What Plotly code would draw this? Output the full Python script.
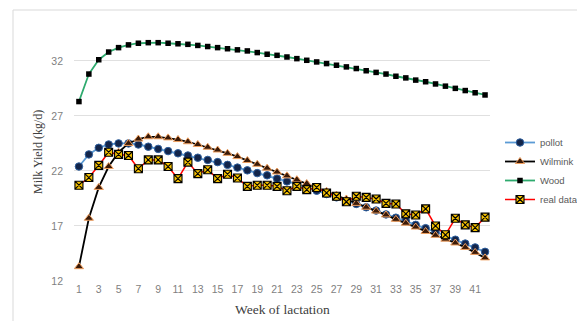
import plotly.graph_objects as go

weeks = list(range(1, 43))
x_tick_labels = [str(w) for w in range(1, 42, 2)]
y_tick_values = [12, 17, 22, 27, 32]

pollot = [22.4, 23.5, 24.1, 24.4, 24.5, 24.5, 24.4, 24.2, 24.0, 23.8, 23.6, 23.4,
          23.2, 23.0, 22.8, 22.55, 22.3, 22.05, 21.8, 21.6, 21.3, 21.05, 20.8, 20.5,
          20.2, 19.9, 19.6, 19.3, 19.0, 18.7, 18.4, 18.05, 17.75, 17.45, 17.1, 16.8,
          16.45, 16.1, 15.75, 15.4, 15.05, 14.65]
wilmink = [13.3, 17.7, 20.5, 22.4, 23.7, 24.5, 24.9, 25.1, 25.1, 25.0, 24.85, 24.65,
           24.4, 24.15, 23.9, 23.6, 23.3, 22.95, 22.6, 22.25, 21.9, 21.55, 21.2, 20.85,
           20.5, 20.15, 19.8, 19.45, 19.05, 18.7, 18.35, 18.0, 17.6, 17.25, 16.9, 16.5,
           16.15, 15.8, 15.45, 15.05, 14.6, 14.1]
wood = [28.3, 30.8, 32.1, 32.8, 33.2, 33.45, 33.6, 33.65, 33.65, 33.6, 33.55, 33.5,
        33.4, 33.3, 33.2, 33.1, 33.0, 32.9, 32.75, 32.6, 32.5, 32.35, 32.2, 32.05,
        31.9, 31.75, 31.6, 31.45, 31.3, 31.1, 30.95, 30.8, 30.6, 30.45, 30.25, 30.1,
        29.9, 29.7, 29.5, 29.3, 29.1, 28.9]
real_data = [20.7, 21.4, 22.5, 23.7, 23.5, 23.4, 22.2, 23.0, 23.0, 22.4, 21.3, 22.8,
             21.75, 22.1, 21.3, 21.7, 21.35, 20.6, 20.7, 20.7, 20.6, 20.2, 20.6, 20.3,
             20.5, 20.0, 19.7, 19.2, 19.7, 19.6, 19.45, 19.05, 19.0, 18.1, 18.0, 18.55,
             17.0, 16.2, 17.7, 17.1, 16.85, 17.8]

fig = go.Figure()
fig.add_trace(go.Scatter(
    x=weeks, y=pollot, name="pollot", mode="lines+markers",
    line=dict(color="#5b9bd5", width=1.8),
    marker=dict(symbol="circle", size=7.5, color="#13254a", line=dict(color="#2e5f9e", width=1))))
fig.add_trace(go.Scatter(
    x=weeks, y=wilmink, name="Wilmink", mode="lines+markers",
    line=dict(color="#000000", width=1.8),
    marker=dict(symbol="triangle-up", size=8, color="#3a1a08", line=dict(color="#f0a060", width=1))))
fig.add_trace(go.Scatter(
    x=weeks, y=wood, name="Wood", mode="lines+markers",
    line=dict(color="#2eaa6e", width=1.8),
    marker=dict(symbol="square", size=5.5, color="#000000", line=dict(width=0))))
fig.add_trace(go.Scatter(
    x=weeks, y=real_data, name="real data", mode="lines+markers",
    line=dict(color="#ff0000", width=1.5),
    marker=dict(symbol="square-x", size=8, color="#f5c000", line=dict(color="#000000", width=1.1))))

# page body has an 8px default margin; target pixel positions are in window coords
OFF = 8
W, H = 585 - OFF, 321 - OFF
L, T = 74 - OFF, 0
plot_right, plot_bottom = 490 - OFF, 281 - OFF
R, B = W - plot_right, H - plot_bottom
pw, ph = W - L - R, H - T - B

def px_x(p):
    return (p - OFF - L) / pw

def px_y(p):
    return (plot_bottom - (p - OFF)) / ph

fig.update_layout(
    width=W, height=H,
    margin=dict(l=L, r=R, t=T, b=B),
    paper_bgcolor="white", plot_bgcolor="white",
    font=dict(family="Liberation Sans, Arial, sans-serif", size=10, color="#7f7f7f"),
    showlegend=True,
    legend=dict(x=px_x(500), y=px_y(128), xanchor="left", yanchor="top",
                font=dict(size=9.5, color="#595959"), bgcolor="rgba(0,0,0,0)",
                itemwidth=30, tracegroupgap=0),
    xaxis=dict(range=[0.5, 42.5], tickmode="array", tickvals=list(range(1, 42, 2)),
               ticktext=x_tick_labels, showgrid=False, zeroline=False, showline=False,
               ticks="", tickfont=dict(size=10.5, color="#7f7f7f")),
    yaxis=dict(range=[12, 36.8], tickmode="array", tickvals=y_tick_values,
               showgrid=True, gridcolor="#e0e0e0", gridwidth=1, zeroline=False,
               showline=False, ticks="", ticklabelstandoff=10,
               tickfont=dict(size=10.5, color="#7f7f7f")),
    shapes=[dict(type="rect", xref="paper", yref="paper",
                 x0=px_x(13), x1=px_x(640), y0=px_y(340), y1=px_y(10),
                 line=dict(color="#d9d9d9", width=1), fillcolor="rgba(0,0,0,0)", layer="below")],
    annotations=[
        dict(text="Milk Yield (kg/d)", xref="paper", yref="paper", x=px_x(38), y=px_y(152),
             xanchor="center", yanchor="middle", textangle=-90, showarrow=False,
             font=dict(family="Liberation Serif, Times New Roman, serif", size=12, color="#404040")),
        dict(text="Week of lactation", xref="paper", yref="paper", x=px_x(282), y=px_y(309),
             xanchor="center", yanchor="middle", showarrow=False,
             font=dict(family="Liberation Serif, Times New Roman, serif", size=13.5, color="#404040")),
    ],
)

fig.write_html("out.html")
